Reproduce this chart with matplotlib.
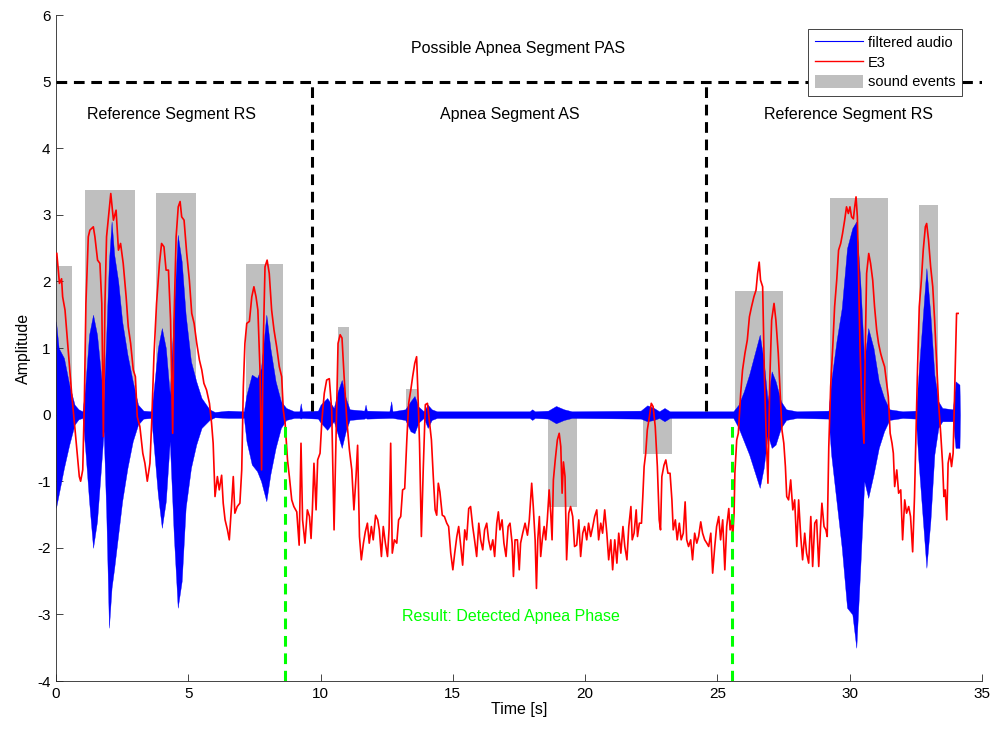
import matplotlib
matplotlib.use('Agg')
import matplotlib.pyplot as plt
from matplotlib.lines import Line2D
from matplotlib.patches import Patch

plt.rcParams['font.family'] = ['Liberation Sans', 'DejaVu Sans']
plt.rcParams['axes.unicode_minus'] = False

# sound events: start, end, height (bars drawn from 0)
ev_start = [0.04, 1.10, 3.78, 7.18, 10.66, 13.23, 18.60, 22.19, 25.66, 29.26, 32.62]
ev_end = [0.59, 2.99, 5.29, 8.57, 11.07, 13.68, 19.70, 23.27, 27.48, 31.43, 33.34]
ev_height = [2.23, 3.37, 3.33, 2.26, 1.32, 0.38, -1.39, -0.59, 1.86, 3.25, 3.15]

# filtered audio envelope (time, upper, lower)
env_t = [0.0, 0.1, 0.3, 0.5, 0.7, 0.85, 1.0, 1.1, 1.25, 1.4, 1.55, 1.7, 1.8, 1.9, 2.0, 2.1, 2.2,
         2.35, 2.5, 2.7, 2.9, 3.1, 3.3, 3.6, 3.7, 3.85, 4.0, 4.15, 4.3, 4.45, 4.6, 4.75, 4.9,
         5.1, 5.3, 5.5, 5.8, 6.0, 6.5, 7.1, 7.2, 7.4, 7.6, 7.75, 7.95, 8.1, 8.3, 8.5, 8.7,
         9.0, 9.2, 9.25, 9.3, 9.9, 10.0, 10.25, 10.5, 10.65, 10.8, 10.95, 11.1, 11.65, 11.7,
         11.75, 12.6, 12.67, 12.72, 13.2, 13.4, 13.55, 13.7, 13.9, 14.05, 14.2, 14.4, 17.9,
         18.0, 18.1, 18.6, 18.9, 19.2, 19.5, 22.1, 22.35, 22.6, 22.8, 23.0, 23.2, 25.6, 25.8,
         26.0, 26.2, 26.4, 26.6, 26.75, 26.9, 27.05, 27.2, 27.4, 27.6, 28.0, 29.2, 29.3, 29.5,
         29.7, 29.9, 30.1, 30.25, 30.4, 30.55, 30.7, 30.9, 31.1, 31.3, 31.5, 32.0, 32.5, 32.6,
         32.75, 32.9, 33.05, 33.2, 33.35, 33.5, 33.9, 34.0, 34.15, 34.17]
env_hi = [1.4, 1.0, 0.85, 0.45, 0.15, 0.08, 0.05, 0.4, 1.2, 1.5, 1.2, 0.6, 0.2, 1.2, 2.3, 2.9, 2.4,
          2.0, 1.4, 0.9, 0.5, 0.15, 0.06, 0.05, 0.4, 1.0, 1.3, 1.0, 0.3, 1.5, 2.7, 2.3, 1.5,
          0.8, 0.5, 0.25, 0.08, 0.04, 0.06, 0.05, 0.3, 0.6, 0.55, 0.7, 1.5, 1.0, 0.5, 0.2, 0.1,
          0.05, 0.05, 0.17, 0.05, 0.06, 0.15, 0.25, 0.1, 0.35, 0.52, 0.25, 0.08, 0.06, 0.15,
          0.06, 0.05, 0.2, 0.05, 0.08, 0.2, 0.28, 0.12, 0.05, 0.15, 0.08, 0.05, 0.05,
          0.08, 0.05, 0.06, 0.13, 0.08, 0.05, 0.06, 0.14, 0.1, 0.05, 0.1, 0.05, 0.05, 0.15,
          0.35, 0.6, 0.9, 1.2, 0.8, 0.2, 0.65, 0.5, 0.2, 0.08, 0.05, 0.06, 0.5, 1.1,
          1.6, 2.5, 2.8, 2.9, 2.0, 0.8, 1.3, 1.0, 0.5, 0.25, 0.08, 0.05, 0.06, 0.6,
          1.4, 2.2, 1.5, 0.6, 0.2, 0.1, 0.08, 0.5, 0.45, 0.0]
env_lo = [-1.4, -1.2, -0.8, -0.45, -0.15, -0.07, -0.05, -0.5, -1.3, -2.0, -1.6, -0.8, -0.25, -1.5,
          -3.2, -2.6, -2.3, -1.8, -1.3, -0.8, -0.4, -0.15, -0.06, -0.05, -0.5, -1.2, -1.7, -1.3,
          -0.4, -1.8, -2.9, -2.5, -1.4, -0.8, -0.45, -0.2, -0.08, -0.04, -0.05, -0.05, -0.4,
          -0.75, -0.85, -1.0, -1.3, -0.9, -0.5, -0.2, -0.08, -0.05, -0.05, -0.06, -0.05, -0.06,
          -0.12, -0.23, -0.1, -0.3, -0.5, -0.25, -0.08, -0.06, -0.05, -0.06, -0.05, -0.05, -0.05,
          -0.08, -0.25, -0.28, -0.12, -0.05, -0.2, -0.08, -0.05, -0.05, -0.08, -0.05, -0.06,
          -0.13, -0.08, -0.05, -0.06, -0.1, -0.08, -0.05, -0.1, -0.05, -0.05, -0.2, -0.4, -0.6,
          -0.85, -1.1, -0.8, -0.3, -0.5, -0.45, -0.2, -0.08, -0.05, -0.06, -0.6, -1.3, -2.0,
          -2.9, -3.0, -3.5, -2.3, -1.0, -1.25, -0.9, -0.5, -0.25, -0.08, -0.05, -0.06, -0.7,
          -1.5, -2.3, -1.6, -0.6, -0.2, -0.1, -0.1, -0.5, -0.5, 0.0]

# E3 curve
e3_t = [0.03, 0.13, 0.21, 0.25, 0.34, 0.47, 0.59, 0.72, 0.88, 0.93, 1.01, 1.07, 1.13, 1.22, 1.28,
        1.41, 1.47, 1.57, 1.66, 1.73, 1.79, 1.85, 1.91, 2.02, 2.07, 2.17, 2.27, 2.36, 2.44, 2.54,
        2.65, 2.73, 2.82, 2.92, 3.00, 3.07, 3.17, 3.28, 3.36, 3.45, 3.55, 3.62, 3.70, 3.80, 3.91,
        3.99, 4.08, 4.16, 4.25, 4.33, 4.41, 4.46, 4.54, 4.62, 4.69, 4.75, 4.84, 4.94, 5.04, 5.13,
        5.22, 5.32, 5.42, 5.51, 5.59, 5.69, 5.80, 5.88, 5.94, 6.01, 6.10, 6.17, 6.26, 6.32, 6.39,
        6.48, 6.55, 6.64, 6.70, 6.76, 6.85, 6.95, 7.02, 7.08, 7.14, 7.21, 7.31, 7.40, 7.48, 7.56,
        7.63, 7.71, 7.77, 7.84, 7.90, 7.98, 8.06, 8.15, 8.24, 8.34, 8.44, 8.53, 8.59, 8.66, 8.75,
        8.82, 8.91, 8.99, 9.10, 9.19, 9.26, 9.32, 9.41, 9.50, 9.58, 9.64, 9.69, 9.75, 9.83, 9.89,
        9.98, 10.05, 10.14, 10.23, 10.33, 10.42, 10.51, 10.58, 10.66, 10.74, 10.81, 10.89, 10.99,
        11.09, 11.18, 11.26, 11.34, 11.40, 11.47, 11.54, 11.62, 11.69, 11.77, 11.84, 11.92, 11.99,
        12.08, 12.16, 12.22, 12.30, 12.37, 12.45, 12.53, 12.59, 12.65, 12.71, 12.79, 12.88, 12.95,
        13.03, 13.10, 13.18, 13.26, 13.33, 13.41, 13.48, 13.56, 13.63, 13.68, 13.74, 13.81, 13.88,
        13.96, 14.04, 14.11, 14.19, 14.26, 14.33, 14.39, 14.45, 14.51, 14.60, 14.68, 14.77, 14.84,
        14.92, 15.00, 15.07, 15.15, 15.22, 15.30, 15.37, 15.45, 15.52, 15.60, 15.67, 15.75, 15.82,
        15.90, 15.98, 16.05, 16.13, 16.20, 16.28, 16.35, 16.43, 16.51, 16.58, 16.66, 16.72, 16.78,
        16.86, 16.93, 17.01, 17.09, 17.16, 17.24, 17.29, 17.35, 17.44, 17.51, 17.56, 17.64, 17.73,
        17.82, 17.89, 17.98, 18.04, 18.11, 18.16, 18.21, 18.27, 18.32, 18.38, 18.45, 18.51, 18.57,
        18.64, 18.70, 18.75, 18.80, 18.87, 18.95, 19.02, 19.08, 19.13, 19.18, 19.24, 19.30, 19.38,
        19.45, 19.53, 19.60, 19.68, 19.76, 19.83, 19.91, 19.98, 20.06, 20.13, 20.21, 20.29, 20.36,
        20.44, 20.51, 20.59, 20.66, 20.74, 20.82, 20.89, 20.97, 21.04, 21.12, 21.20, 21.27, 21.35,
        21.43, 21.50, 21.58, 21.65, 21.73, 21.78, 21.85, 21.93, 21.98, 22.05, 22.13, 22.18, 22.23,
        22.29, 22.35, 22.43, 22.50, 22.57, 22.65, 22.73, 22.80, 22.85, 22.90, 22.98, 23.05, 23.13,
        23.21, 23.28, 23.33, 23.41, 23.48, 23.56, 23.63, 23.71, 23.78, 23.84, 23.91, 23.99, 24.06,
        24.14, 24.22, 24.29, 24.37, 24.44, 24.52, 24.60, 24.67, 24.75, 24.82, 24.90, 24.97, 25.05,
        25.12, 25.20, 25.28, 25.35, 25.43, 25.48, 25.53, 25.58, 25.63, 25.66, 25.73, 25.79, 25.88,
        25.95, 26.04, 26.13, 26.21, 26.29, 26.38, 26.46, 26.52, 26.58, 26.63, 26.71, 26.78, 26.85,
        26.91, 26.98, 27.05, 27.14, 27.21, 27.30, 27.36, 27.44, 27.51, 27.57, 27.62, 27.69, 27.77,
        27.85, 27.92, 28.00, 28.07, 28.15, 28.22, 28.30, 28.37, 28.45, 28.53, 28.60, 28.68, 28.75,
        28.83, 28.90, 28.95, 29.03, 29.10, 29.15, 29.21, 29.28, 29.36, 29.43, 29.51, 29.58, 29.66,
        29.73, 29.81, 29.88, 29.95, 30.01, 30.07, 30.14, 30.19, 30.24, 30.29, 30.34, 30.39, 30.47,
        30.54, 30.59, 30.64, 30.72, 30.79, 30.87, 30.94, 31.02, 31.09, 31.17, 31.24, 31.32, 31.40,
        31.46, 31.53, 31.60, 31.65, 31.70, 31.78, 31.85, 31.93, 32.00, 32.08, 32.15, 32.23, 32.30,
        32.38, 32.45, 32.51, 32.56, 32.63, 32.71, 32.78, 32.86, 32.91, 32.98, 33.06, 33.14, 33.21,
        33.29, 33.36, 33.44, 33.51, 33.56, 33.61, 33.67, 33.72, 33.79, 33.85, 33.91, 33.98, 34.04,
        34.10]
e3_v = [2.42, 1.97, 2.04, 1.77, 1.57, 0.92, 0.32, -0.23, -0.93, -1.00, -0.83, 0.17, 1.67, 2.67,
        2.77, 2.82, 2.67, 2.32, 2.27, 1.67, -0.33, 1.67, 2.67, 3.12, 3.32, 2.92, 3.07, 2.47, 2.57,
        2.27, 1.77, 1.32, 1.07, 0.67, 0.57, -0.03, -0.18, -0.58, -0.73, -1.00, -0.73, -0.08, 0.87,
        1.67, 2.27, 2.57, 2.52, 2.17, 2.17, 1.42, -0.28, 1.42, 2.67, 3.12, 3.20, 2.97, 2.92, 2.42,
        2.02, 1.52, 1.37, 1.07, 0.82, 0.67, 0.47, 0.37, 0.17, -0.13, -0.43, -1.23, -0.93, -1.13,
        -0.91, -1.33, -1.58, -1.73, -1.88, -1.33, -0.93, -1.48, -1.38, -1.33, -0.83, 0.42, 1.07,
        1.37, 1.40, 1.77, 1.92, 1.77, 1.57, 0.67, -0.83, 1.17, 2.22, 2.32, 2.12, 1.57, 1.27, 1.02,
        0.72, 0.57, 0.07, -0.13, -0.68, -0.93, -1.28, -1.38, -1.46, -1.96, -0.43, -1.58, -1.93,
        -1.43, -1.53, -1.86, -1.43, -0.73, -1.43, -0.68, -0.58, -0.08, 0.32, 0.52, 0.54, 0.07,
        -1.73, -0.43, 1.07, 1.20, 1.15, 0.57, -0.08, -0.53, -0.83, -1.43, -0.93, -0.46, -1.83,
        -2.18, -1.93, -1.76, -1.63, -1.93, -1.68, -1.88, -1.51, -1.58, -1.73, -2.13, -1.68, -1.93,
        -2.13, -1.71, -0.43, -2.08, -1.88, -1.93, -1.58, -1.53, -1.13, -1.11, -0.38, 0.17, 0.37,
        0.57, 0.77, 0.87, 0.32, -0.43, -1.83, -0.83, 0.15, 0.17, -0.08, -0.38, -0.93, -1.43, -1.51,
        -1.03, -1.16, -1.51, -1.53, -1.63, -1.68, -2.08, -2.33, -2.08, -1.83, -1.68, -1.98, -2.26,
        -1.73, -1.88, -1.41, -1.38, -1.68, -1.88, -2.13, -1.63, -1.88, -2.03, -1.73, -1.63, -1.88,
        -2.03, -1.88, -2.13, -1.63, -1.46, -1.73, -1.58, -1.93, -2.13, -1.68, -1.63, -1.93, -2.43,
        -1.88, -1.88, -2.33, -1.93, -1.78, -1.63, -1.81, -1.58, -1.03, -1.38, -1.88, -2.61, -1.88,
        -1.53, -2.13, -1.88, -1.68, -1.88, -1.58, -1.13, -1.48, -1.88, -0.98, -0.68, -0.38, -0.28,
        -0.48, -1.18, -0.71, -0.93, -2.18, -1.48, -1.38, -1.53, -1.98, -1.96, -1.58, -2.13, -1.78,
        -1.68, -1.88, -1.63, -1.83, -1.68, -1.53, -1.43, -1.88, -1.63, -1.78, -1.43, -1.78, -2.18,
        -1.88, -2.33, -1.88, -2.23, -1.78, -2.08, -1.68, -1.98, -2.18, -1.68, -1.38, -1.88, -1.78,
        -1.43, -1.83, -1.63, -1.63, -1.23, -0.78, -0.58, -0.23, -0.03, 0.17, 0.12, -0.18, -0.78,
        -1.58, -1.73, -0.93, -0.76, -0.68, -0.88, -0.88, -1.28, -1.73, -1.58, -1.88, -1.63, -1.88,
        -1.78, -1.31, -1.88, -1.98, -1.88, -2.18, -1.78, -1.93, -1.83, -1.61, -1.78, -1.88, -1.93,
        -1.98, -1.78, -2.38, -1.98, -1.68, -1.53, -1.88, -1.58, -2.33, -1.68, -1.41, -1.73, -1.58,
        -1.83, -1.48, -0.88, -0.38, -0.28, 0.32, 0.67, 0.92, 1.12, 1.47, 1.62, 1.77, 1.87, 2.12,
        2.29, 2.02, 1.92, 0.52, -0.38, -1.03, 0.52, 1.42, 1.67, 1.42, 0.92, 0.42, -0.23, -0.43,
        -0.78, -1.23, -1.28, -0.98, -1.43, -1.28, -1.98, -1.28, -1.83, -2.18, -1.78, -2.08, -2.23,
        -1.53, -2.28, -1.63, -1.58, -2.28, -1.68, -1.33, -1.68, -1.73, -1.83, -0.48, 0.42, 1.02,
        1.62, 2.02, 2.47, 2.57, 2.72, 2.92, 3.12, 3.02, 3.12, 2.97, 2.94, 3.12, 3.27, 2.97, 2.02,
        1.02, 0.02, -0.43, 1.02, 2.12, 2.42, 2.27, 2.02, 1.62, 1.27, 1.07, 0.92, 0.82, 0.72, 0.47,
        0.27, -0.28, -0.43, -0.58, -1.08, -0.83, -1.18, -1.13, -1.88, -1.28, -1.48, -1.38, -1.53,
        -2.06, -1.23, -0.23, 0.62, 1.62, 2.02, 2.47, 2.82, 2.87, 2.62, 2.22, 1.92, 1.42, 0.77,
        0.17, -0.28, -0.73, -1.23, -1.13, -1.58, -0.73, -0.58, -0.78, -0.58, 0.52, 1.52, 1.52]

seg_labels = ['Reference Segment RS', 'Apnea Segment AS', 'Reference Segment RS']
seg_label_x = [4.38, 17.16, 29.97]
pas_level = 5
rs_as_bounds = [9.68, 24.57]
apnea_bounds = [8.66, 25.56]

fig = plt.figure(figsize=(9.95, 7.33), dpi=100)
ax = fig.add_axes([0.0563, 0.0709, 0.9306, 0.9086])

# sound events as grey bars from 0
for s, e, h in zip(ev_start, ev_end, ev_height):
    ax.bar(s, h, width=e - s, align='edge', color='#bfbfbf', linewidth=0, zorder=1)

ax.fill_between(env_t, env_lo, env_hi, color='#0000ff', linewidth=0.25, edgecolor='#0000ff', zorder=2)
ax.plot(e3_t, e3_v, color='#ff0000', linewidth=1.2, zorder=3)

# segment markers
ax.plot([0, 35], [pas_level, pas_level], color='k', ls=(0, (3.5, 2.2)), linewidth=2.2, zorder=4)
for xb in rs_as_bounds:
    ax.plot([xb, xb], [0.05, pas_level], color='k', ls=(0, (3.5, 2.2)), linewidth=2.2, zorder=4)
for xb in apnea_bounds:
    ax.plot([xb, xb], [-4, -0.1], color='#00ff00', ls=(0, (3.5, 2.2)), linewidth=2.2, zorder=5)

ax.text(17.46, 5.5, 'Possible Apnea Segment PAS', ha='center', va='center', fontsize=11.5)
for lab, xl in zip(seg_labels, seg_label_x):
    ax.text(xl, 4.5, lab, ha='center', va='center', fontsize=11.5)
ax.text(17.2, -3.03, 'Result: Detected Apnea Phase', ha='center', va='center', fontsize=11.5, color='#00ff00')

ax.set_xlim(0, 35)
ax.set_ylim(-4, 6)
ax.set_xticks(range(0, 36, 5))
ax.set_yticks(range(-4, 7))
ax.spines['top'].set_visible(False)
ax.spines['right'].set_visible(False)
for sp in ['left', 'bottom']:
    ax.spines[sp].set_color('0.15')
    ax.spines[sp].set_linewidth(0.6)
ax.tick_params(direction='in', length=5, width=0.6, color='0.15', labelsize=11, labelcolor='k', pad=4)
ax.set_xlabel('Time [s]', fontsize=11.5, labelpad=1)
ax.set_ylabel('Amplitude', fontsize=11.5, labelpad=4)

handles = [Line2D([0], [0], color='#0000ff', linewidth=0.8),
           Line2D([0], [0], color='#ff0000', linewidth=1.0),
           Patch(facecolor='#bfbfbf', edgecolor='none')]
leg = ax.legend(handles, ['filtered audio', 'E3', 'sound events'], loc='upper right',
                bbox_to_anchor=(0.978, 0.979), fontsize=10.5, frameon=True, fancybox=False,
                framealpha=1, edgecolor='0.15', handlelength=3.3, handleheight=1.0,
                labelspacing=0.35, borderpad=0.45, handletextpad=0.3, borderaxespad=0)
leg.get_frame().set_linewidth(0.6)
leg.set_zorder(10)

fig.savefig('out.png', dpi=100)
